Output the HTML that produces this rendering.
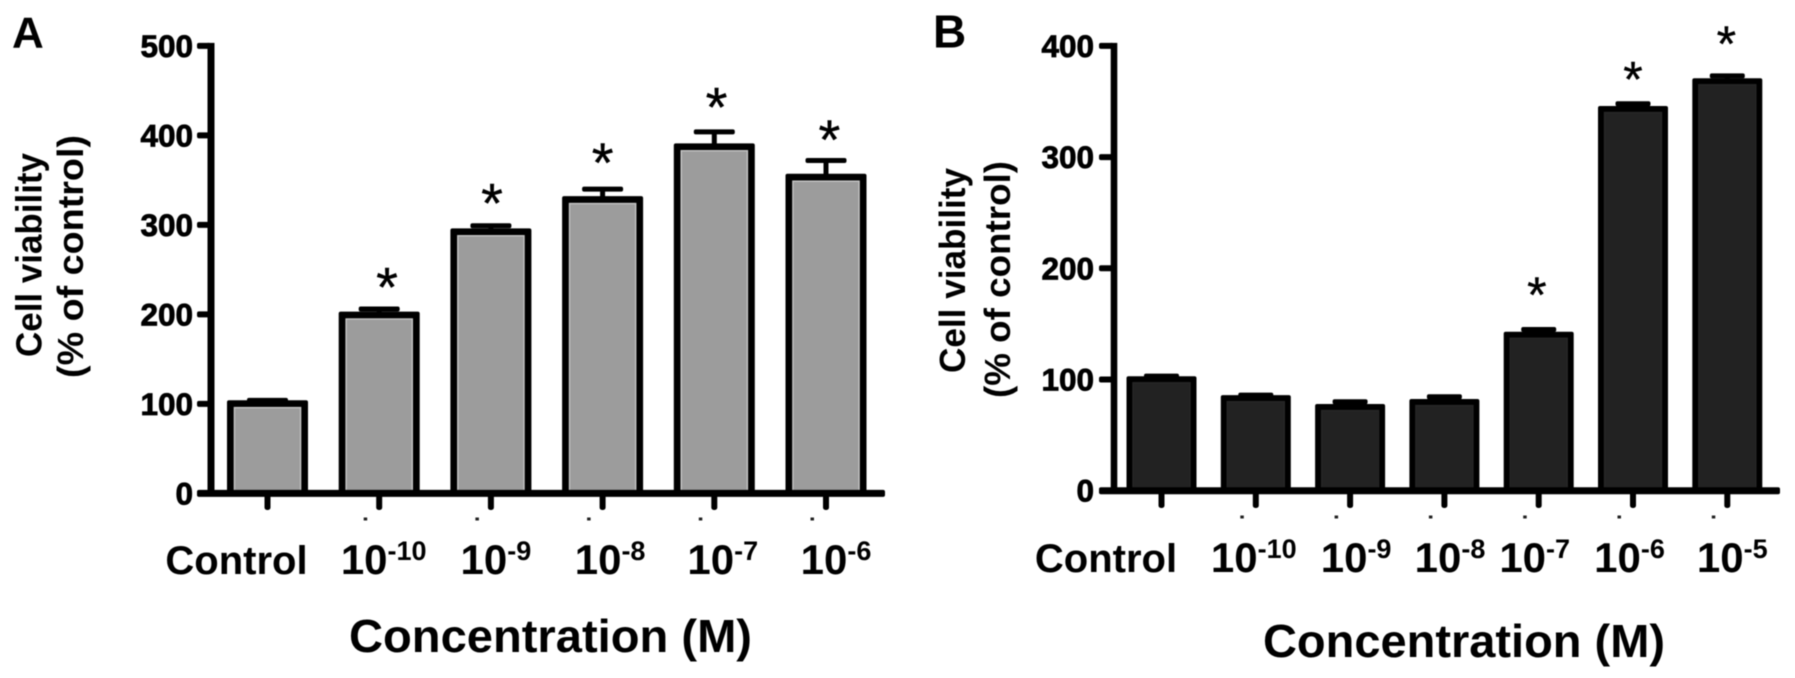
<!DOCTYPE html>
<html lang="en">
<head>
<meta charset="utf-8">
<title>Cell viability by concentration</title>
<style>
  html, body { margin: 0; padding: 0; background: #fff; }
  #figure { display: block; width: 1795px; height: 678px; filter: blur(0.5px); }
  text { font-family: "Liberation Sans", Arial, sans-serif; fill: #000; }
  .bold { font-weight: 700; }
</style>
</head>
<body>
<svg id="figure" xmlns="http://www.w3.org/2000/svg" width="1795" height="678" viewBox="0 0 1795 678">
  <rect x="0" y="0" width="1795" height="678" fill="#fff"/>
  <g id="panelA">
    <text class="bold" x="12" y="47.5" font-size="44">A</text>
    <text class="bold" font-size="36" text-anchor="middle" textLength="204" lengthAdjust="spacingAndGlyphs" transform="translate(41.5 255) rotate(-90)">Cell viability</text>
    <text class="bold" font-size="36" text-anchor="middle" textLength="243" lengthAdjust="spacingAndGlyphs" transform="translate(83 256.5) rotate(-90)">(% of control)</text>
    <text class="bold" font-size="46" x="349" y="652" textLength="403" lengthAdjust="spacingAndGlyphs">Concentration (M)</text>
  </g>
  <g id="panelB">
    <text class="bold" x="933" y="47.5" font-size="46">B</text>
    <text class="bold" font-size="36" text-anchor="middle" textLength="205" lengthAdjust="spacingAndGlyphs" transform="translate(965 270.5) rotate(-90)">Cell viability</text>
    <text class="bold" font-size="36" text-anchor="middle" textLength="237" lengthAdjust="spacingAndGlyphs" transform="translate(1010 279.5) rotate(-90)">(% of control)</text>
    <text class="bold" font-size="46" x="1263" y="657" textLength="402" lengthAdjust="spacingAndGlyphs">Concentration (M)</text>
  </g>
</svg>
<script>
// ---- Panel A data ----
const categoriesA = ['Control', '10^-10', '10^-9', '10^-8', '10^-7', '10^-6'];
const valuesA = [100, 199, 292, 328, 387, 353];
const errorsA = [4, 7, 7, 12, 17, 19];
const yTicksA = [0, 100, 200, 300, 400, 500];
const starCategoriesA = [1.07, 2.01, 3, 4.02, 5.03];
const starLevelsA = [240, 334, 379, 441, 405];

// ---- Panel B data ----
const categoriesB = ['Control', '10^-10', '10^-9', '10^-8', '10^-7', '10^-6', '10^-5'];
const valuesB = [100, 83, 75, 79.5, 140, 343, 368];
const errorsB = [3, 3, 5, 5, 5, 5, 5];
const yTicksB = [0, 100, 200, 300, 400];
const starCategoriesB = [3.98, 5, 5.99];
const starLevelsB = [183, 377, 409];

// ---- Layout (not data) ----
const layoutA = {
  prefix: 'panel-a', group: 'panelA',
  x0: 267.5, step: 111.7, y0: 493.4, unit: 0.895,
  axisX: 211, axisW: 7, tickLeft: 197, axisRight: 885, tickEnd: 510,
  barHalf: 40.5, stroke: 7.4, capHalf: 20.5, fill: '#9c9c9c', edge: '#c6c6c6',
  numberRight: 193, labelBase: 574, dotY: 519, starSize: 56,
  labelNudge: [-31, 4.5, 5, 7.5, 8.5, 10]
};
const layoutB = {
  prefix: 'panel-b', group: 'panelB',
  x0: 1161.5, step: 94.3, y0: 490.7, unit: 1.112,
  axisX: 1114, axisW: 6.6, tickLeft: 1099, axisRight: 1780, tickEnd: 508,
  barHalf: 35, stroke: 6.5, capHalf: 17.5, fill: '#222222', edge: '#262626',
  numberRight: 1094, labelBase: 572, dotY: 517, starSize: 50,
  labelNudge: [-55.5, -2, 6, 5.6, -4, -3.5, 5]
};

const SVG_NS = 'http://www.w3.org/2000/svg';
function make(parent, tag, attrs, txt) {
  const node = document.createElementNS(SVG_NS, tag);
  for (const key in attrs) node.setAttribute(key, attrs[key]);
  if (txt !== undefined) node.textContent = txt;
  parent.appendChild(node);
  return node;
}

function drawPanel(layout, categories, values, errors, yTicks, starCats, starLevels) {
  const root = document.getElementById(layout.group);
  const xScale = c => layout.x0 + layout.step * c;
  const yScale = v => layout.y0 - layout.unit * v;
  const half = layout.stroke / 2;

  // bars and error bars
  values.forEach((value, i) => {
    const cx = xScale(i);
    const top = yScale(value) - half;
    const bottom = yScale(0);
    const capY = yScale(value + errors[i]);

    const stem = make(root, 'rect', { x: cx - 2.5, y: capY, width: 5, height: top - capY + 2, fill: '#000' });
    
    

    const cap = make(root, 'rect', { x: cx - layout.capHalf, y: capY - 2.5, width: layout.capHalf * 2, height: 5, rx: 2, fill: '#000' });
    
    

    const outline = make(root, 'rect', { x: cx - layout.barHalf, y: top, width: layout.barHalf * 2, height: bottom - top, rx: 2, fill: '#000' });
    
    

    const innerW = (layout.barHalf - layout.stroke) * 2;
    const innerH = bottom - top - layout.stroke;
    const bar = make(root, 'rect', { x: cx - layout.barHalf + layout.stroke, y: top + layout.stroke, width: innerW, height: innerH, fill: layout.fill, stroke: layout.edge, 'stroke-width': 1.4 });
    
    
  });

  // y axis line
  const yLine = make(root, 'rect', { x: layout.axisX - layout.axisW / 2, y: yScale(yTicks[yTicks.length - 1]) - 3, width: layout.axisW, height: yScale(0) - yScale(yTicks[yTicks.length - 1]) + 6, fill: '#000' });
  
  

  // x axis line
  const xLine = make(root, 'rect', { x: layout.tickLeft, y: yScale(0) - 3.5, width: layout.axisRight - layout.tickLeft, height: 7, rx: 2, fill: '#000' });
  
  

  // y ticks and numbers
  yTicks.forEach(tick => {
    const mark = make(root, 'rect', { x: layout.tickLeft, y: yScale(tick) - 3, width: layout.axisX - layout.tickLeft, height: 6, rx: 2, fill: '#000' });
    
    

    const label = make(root, 'text', { x: layout.numberRight, y: yScale(tick) + 11, 'text-anchor': 'end', 'font-size': 31.5, 'font-weight': 700, stroke: '#000', 'stroke-width': 0.8 }, String(tick));
    
    
  });

  // x ticks, dots and category labels
  categories.forEach((category, i) => {
    const cx = xScale(i);
    const mark = make(root, 'rect', { x: cx - 3, y: yScale(0), width: 6, height: layout.tickEnd - yScale(0), rx: 2.5, fill: '#000' });
    
    

    const parts = category.split('^');
    if (parts.length > 1) {
      const dot = make(root, 'rect', { x: cx - 15.5, y: layout.dotY - 1.5, width: 3.5, height: 3, fill: '#222' });
      
      
    }

    const label = make(root, 'text', { x: cx + layout.labelNudge[i], y: layout.labelBase, 'text-anchor': 'middle', 'font-size': parts.length > 1 ? 42 : 40, 'font-weight': 700 });
    
    
    make(label, 'tspan', {}, parts[0]);
    if (parts.length > 1) make(label, 'tspan', { dy: -14, 'font-size': 27 }, parts[1]);
  });

  // significance stars
  starCats.forEach((cat, i) => {
    const star = make(root, 'text', { x: xScale(cat), y: yScale(starLevels[i]) + layout.starSize * 0.5, 'text-anchor': 'middle', 'font-size': layout.starSize, stroke: '#000', 'stroke-width': 0.4 }, '*');
    
    
  });
}

drawPanel(layoutA, categoriesA, valuesA, errorsA, yTicksA, starCategoriesA, starLevelsA);
drawPanel(layoutB, categoriesB, valuesB, errorsB, yTicksB, starCategoriesB, starLevelsB);
</script>
</body>
</html>
